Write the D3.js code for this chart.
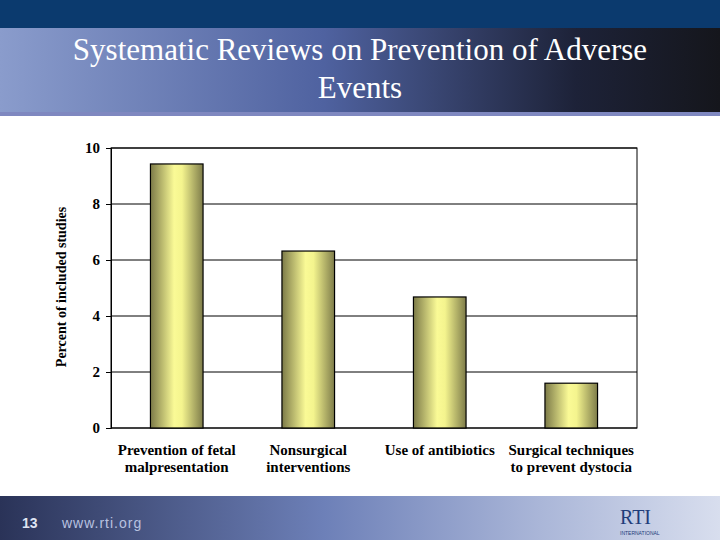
<!DOCTYPE html>
<html><head><meta charset="utf-8">
<script src="https://cdn.jsdelivr.net/npm/d3@7"></script>
<style>body{margin:0;background:#fff}svg{display:block}</style>
</head><body><svg id="c" width="720" height="540"></svg>
<script>
const categories = ["Prevention of fetal|malpresentation","Nonsurgical|interventions","Use of antibiotics","Surgical techniques|to prevent dystocia"];
const values = [9.43, 6.32, 4.68, 1.6];
const yTicks = [0,2,4,6,8,10];
const SERIF = "'Liberation Serif','DejaVu Serif',serif";

const svg = d3.select("#c");
const defs = svg.append("defs");
function grad(id, stops){
  const g = defs.append("linearGradient").attr("id",id).attr("x1","0").attr("x2","1").attr("y1","0").attr("y2","0");
  stops.forEach(s=>g.append("stop").attr("offset",s[0]).attr("stop-color",s[1]));
}
grad("hdr",[[0,"#8a9ccc"],[0.45,"#4f62a0"],[0.8,"#1d2238"],[1,"#15161c"]]);
grad("ftr",[[0,"#2a3358"],[0.45,"#6d80b8"],[0.75,"#aab6d8"],[1,"#d8deee"]]);
grad("bar",[[0,"#7c7a48"],[0.45,"#fafa96"],[0.6,"#f4f48e"],[1,"#7e7c4a"]]);

// header
svg.append("rect").attr("x",0).attr("y",0).attr("width",720).attr("height",28).attr("fill","#0b3a6e");
svg.append("rect").attr("x",0).attr("y",28).attr("width",720).attr("height",86).attr("fill","url(#hdr)");
svg.append("rect").attr("x",0).attr("y",112).attr("width",720).attr("height",4).attr("fill","#7f88c0");
svg.append("text").attr("x",360).attr("y",60).attr("text-anchor","middle").attr("fill","#fff")
  .style("font-family",SERIF).attr("font-size",31).text("Systematic Reviews on Prevention of Adverse");
svg.append("text").attr("x",360).attr("y",98).attr("text-anchor","middle").attr("fill","#fff")
  .style("font-family",SERIF).attr("font-size",31).text("Events");

// footer
svg.append("rect").attr("x",0).attr("y",496).attr("width",720).attr("height",44).attr("fill","url(#ftr)");
svg.append("text").attr("x",22).attr("y",528).attr("fill","#dfe4f2").attr("font-family","Liberation Sans").attr("font-size",14).attr("font-weight","bold").text("13");
svg.append("text").attr("x",62).attr("y",528).attr("fill","#b8c2e0").attr("font-family","Liberation Sans").attr("font-size",14).attr("letter-spacing",1).text("www.rti.org");
svg.append("text").attr("x",620).attr("y",524).attr("fill","#1f3d7a").style("font-family",SERIF).attr("font-size",20).text("RTI");
svg.append("text").attr("x",620).attr("y",535).attr("fill","#1f3d7a").attr("font-family","Liberation Sans").attr("font-size",5).text("INTERNATIONAL");

// chart
const x0=111, x1=637, yTop=148, yBot=428;
const x = d3.scaleBand().domain(categories).range([x0,x1]).paddingInner(0.6).paddingOuter(0.3);
const y = d3.scaleLinear().domain([0,10]).range([yBot,yTop]);
const g = svg.append("g");
g.append("rect").attr("x",x0).attr("y",yTop).attr("width",x1-x0).attr("height",yBot-yTop).attr("fill","none").attr("stroke","#000");
g.selectAll("line.grid").data(yTicks).join("line").attr("x1",x0).attr("x2",x1)
  .attr("y1",d=>y(d)).attr("y2",d=>y(d)).attr("stroke","#000");
g.selectAll("rect.bar").data(values).join("rect").attr("class","bar")
  .attr("x",(d,i)=>x(categories[i])).attr("width",x.bandwidth())
  .attr("y",d=>y(d)).attr("height",d=>yBot-y(d))
  .attr("fill","url(#bar)").attr("stroke","#000").attr("stroke-width",1.2);
const ya = g.append("g").attr("transform",`translate(${x0},0)`)
  .call(d3.axisLeft(y).tickValues(yTicks).tickSize(5).tickFormat(d3.format("d")));
ya.select(".domain").attr("stroke","#000");
ya.selectAll("text").style("font-family",SERIF).attr("font-weight","bold").attr("font-size",15).attr("fill","#000").attr("dx",-3);
const xa = g.append("g").attr("transform",`translate(0,${yBot})`)
  .call(d3.axisBottom(x).tickSize(0).tickFormat(""));
xa.select(".domain").remove();
categories.forEach(c=>{
  const lines=c.split("|");
  lines.forEach((t,j)=>g.append("text").attr("x",x(c)+x.bandwidth()/2).attr("y",yBot+27+j*17)
    .attr("text-anchor","middle").style("font-family",SERIF).attr("font-weight","bold").attr("font-size",15).text(t));
});
svg.append("text").attr("transform","translate(66,287) rotate(-90)").attr("text-anchor","middle")
  .style("font-family",SERIF).attr("font-weight","bold").attr("font-size",14).text("Percent of included studies");
</script></body></html>
